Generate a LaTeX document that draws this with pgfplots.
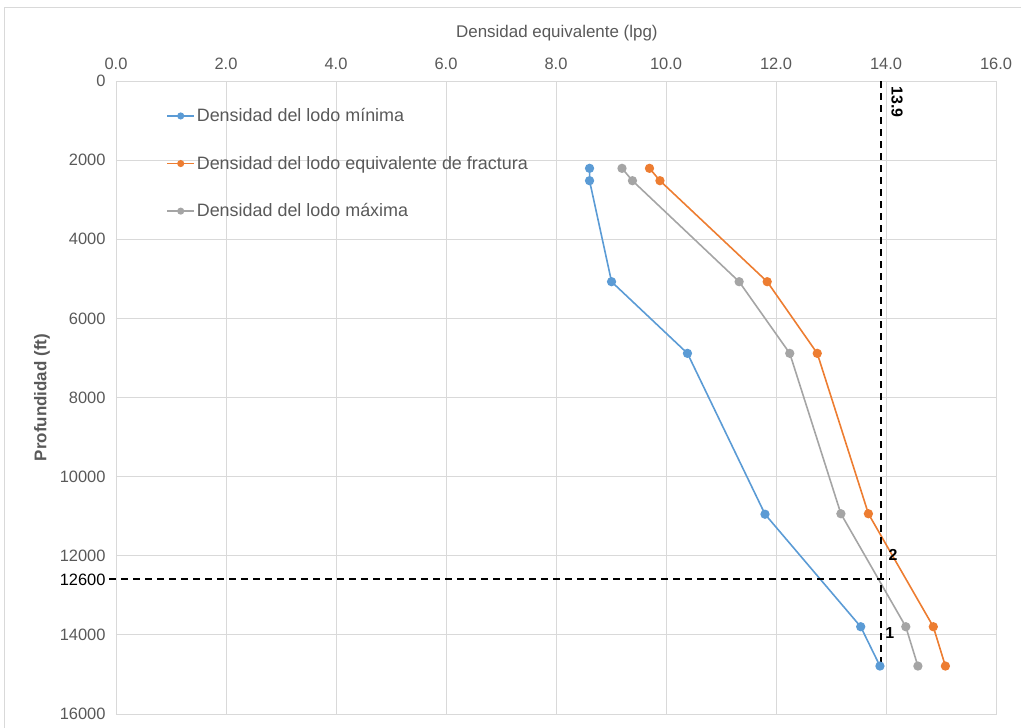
\documentclass[border=0pt]{standalone}
\usepackage{fontspec}
\setmainfont{Liberation Sans}
\usepackage{pgfplots}
\pgfplotsset{compat=1.18}
\definecolor{cblue}{HTML}{5B9BD5}
\definecolor{corange}{HTML}{ED7D31}
\definecolor{cgray}{HTML}{A5A5A5}
\definecolor{tickgray}{HTML}{595959}
\definecolor{gridgray}{HTML}{D9D9D9}
\begin{document}
\begin{tikzpicture}
\begin{axis}[
  scale only axis, width=880bp, height=633bp,
  xmin=0, xmax=16, ymin=0, ymax=16000, y dir=reverse,
  xtick={0,2,...,16}, ytick={0,2000,...,16000},
  scaled ticks=false,
  extra y ticks={12600},
  extra y tick style={grid=none, yticklabel style={text=black, font=\fontsize{16.5}{20}\selectfont}},
  xticklabel pos=upper,
  grid=major, grid style={draw=gridgray, line width=0.9bp},
  axis line style={draw=gridgray, line width=0.9bp},
  major tick length=0,
  clip=false,
  tick label style={font=\fontsize{16.5}{20}\selectfont, text=tickgray},
  /pgf/number format/assume math mode=true,
  x tick label style={/pgf/number format/.cd, fixed, fixed zerofill, precision=1, /tikz/.cd},
  y tick label style={/pgf/number format/.cd, fixed, 1000 sep={}, /tikz/.cd},
  xticklabel shift=8bp, yticklabel shift=7bp,
  xlabel={Densidad equivalente (lpg)},
  xlabel style={at={(axis description cs:0.501,1.076)}, anchor=center, font=\fontsize{17}{20}\selectfont, text=tickgray},
  ylabel={Profundidad (ft)},
  ylabel style={at={(axis description cs:-0.084,0.5)}, anchor=center, rotate=0, font=\fontsize{17}{20}\selectfont\bfseries, text=tickgray},
  legend style={at={(axis description cs:0.055,0.963)}, anchor=north west, draw=none, fill=none,
    font=\fontsize{18}{21}\selectfont, text=tickgray, row sep=29bp, inner sep=2bp},
  legend cell align=left,
  legend image code/.code={\draw[mark=none] (0cm,0cm) -- (0.94cm,0cm); \draw[mark size=2.7bp] plot coordinates {(0.47cm,0cm)};},
]
\addplot[cblue, line width=1.6bp, mark=*, mark size=3.8bp, mark options={solid}] coordinates {
(8.61,2207) (8.61,2520) (9.01,5073) (10.39,6884) (11.80,10950) (13.54,13794) (13.89,14788)};
\addlegendentry{Densidad del lodo mínima}
\addplot[corange, line width=1.6bp, mark=*, mark size=3.8bp, mark options={solid}] coordinates {
(9.70,2207) (9.89,2520) (11.84,5073) (12.75,6884) (13.68,10938) (14.86,13794) (15.08,14788)};
\addlegendentry{Densidad del lodo equivalente de fractura}
\addplot[cgray, line width=1.6bp, mark=*, mark size=3.8bp, mark options={solid}] coordinates {
(9.20,2207) (9.39,2520) (11.33,5073) (12.25,6884) (13.18,10938) (14.36,13794) (14.58,14788)};
\addlegendentry{Densidad del lodo máxima}
\addplot[black, line width=2bp, dash pattern=on 7bp off 5bp, forget plot] coordinates {(13.9,0) (13.9,14788)};
\addplot[black, line width=2bp, dash pattern=on 7bp off 5bp, forget plot] coordinates {(-0.12,12600) (14.07,12600)};
\node[rotate=-90, font=\fontsize{16}{19}\selectfont\bfseries] at (axis cs:14.2,530) {13.9};
\node[font=\fontsize{16}{19}\selectfont\bfseries] at (axis cs:14.13,11982) {2};
\node[font=\fontsize{16}{19}\selectfont\bfseries] at (axis cs:14.07,13953) {1};
\end{axis}
\draw[gridgray, line width=0.9bp] ([xshift=-112bp,yshift=74bp]current axis.north west) rectangle ([xshift=60bp,yshift=-40bp]current axis.south east);
\pgfresetboundingbox
\path[use as bounding box] ([xshift=-116bp,yshift=81bp]current axis.north west) rectangle ([xshift=25bp,yshift=-14bp]current axis.south east);
\end{tikzpicture}
\end{document}
